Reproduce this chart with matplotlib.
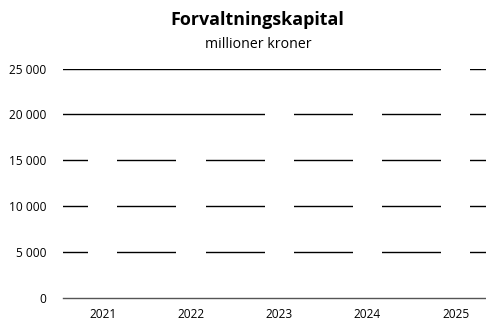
import matplotlib
matplotlib.use("Agg")
import matplotlib.pyplot as plt
from matplotlib.ticker import FuncFormatter

# Forvaltningskapital per år (millioner kroner)
years = ["2021", "2022", "2023", "2024", "2025"]
capital = [17800, 18600, 21700, 23900, 26500]
y_ticks = [0, 5000, 10000, 15000, 20000, 25000]

plt.rcParams["font.family"] = ["Open Sans", "DejaVu Sans"]

fig = plt.figure(figsize=(4.86, 3.2), dpi=100)
ax = fig.add_axes([63 / 486, 21.7 / 320, 432.4 / 486, 229.8 / 320])

x = range(len(years))
ax.bar(x, capital, width=0.33, color="white", linewidth=0, zorder=3)

ax.set_ylim(0, 25000)
ax.set_xlim(-0.45, 4.45)
ax.set_yticks(y_ticks)
ax.yaxis.set_major_formatter(FuncFormatter(lambda v, _: f"{int(v):,}".replace(",", " ")))
ax.set_xticks(list(x))
ax.set_xticklabels(years)

ax.grid(axis="y", color="black", linewidth=1.0, zorder=1)
ax.set_axisbelow(True)
for s in ["top", "right", "left", "bottom"]:
    ax.spines[s].set_visible(False)
# the zero line is the grey baseline, drawn over the bars
ax.yaxis.get_gridlines()[0].set_visible(False)
ax.axhline(0, color="#555555", linewidth=1.0, zorder=5, clip_on=False)

ax.tick_params(axis="both", length=0, labelsize=8.6, colors="black")
ax.tick_params(axis="y", pad=12)
ax.tick_params(axis="x", pad=7)

fig.text(257 / 486, 1 - 20 / 320, "Forvaltningskapital", ha="center", va="center",
         fontsize=12.9, fontweight="bold")
fig.text(258 / 486, 1 - 45 / 320, "millioner kroner", ha="center", va="center",
         fontsize=10.2)

fig.savefig("out.png", dpi=100)
